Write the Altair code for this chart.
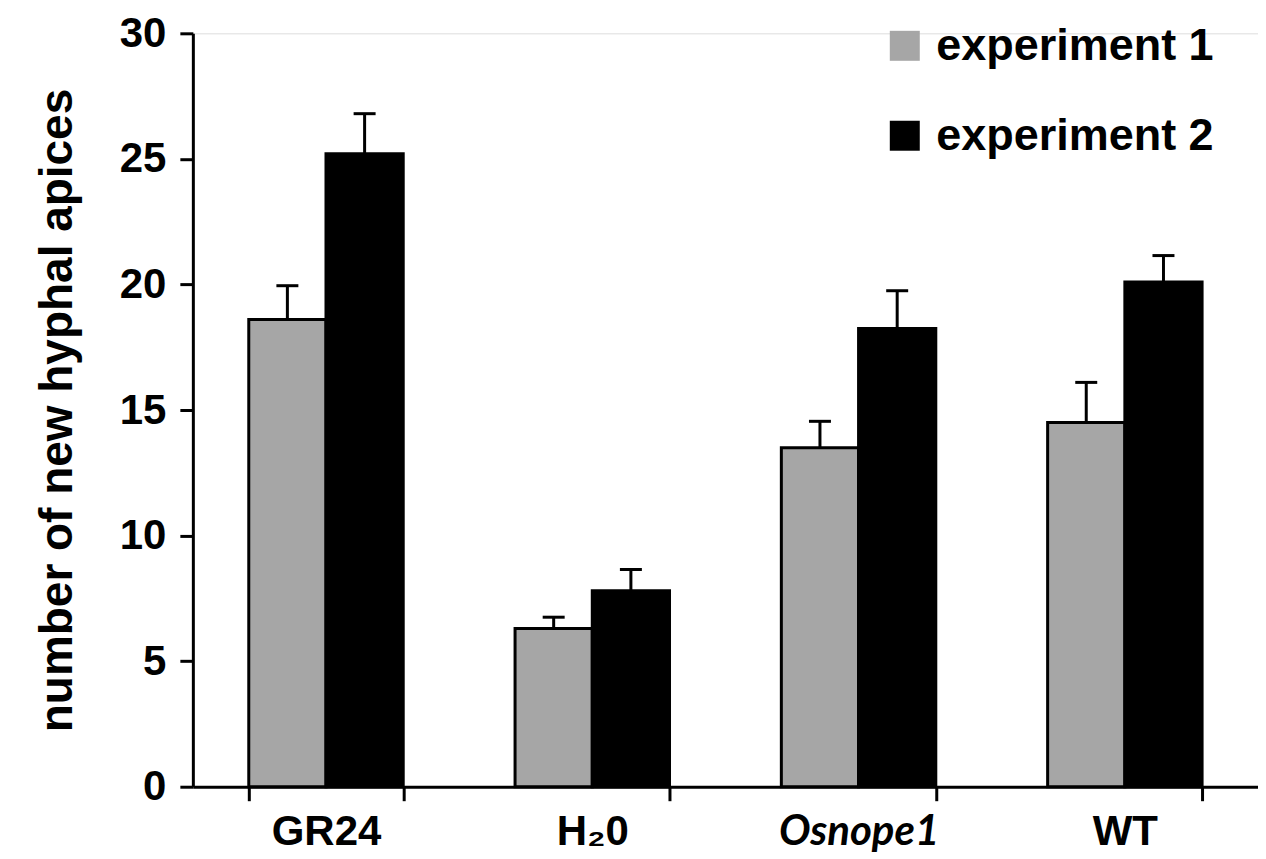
import altair as alt
import pandas as pd

treatments = ["GR24", "H₂0", "Osnope1", "WT"]
experiments = ["experiment 1", "experiment 2"]
exp1_mean = [18.6, 6.3, 13.5, 14.5]
exp1_err = [1.35, 0.45, 1.05, 1.6]
exp2_mean = [25.2, 7.8, 18.25, 20.1]
exp2_err = [1.6, 0.85, 1.5, 1.05]
colors = ["#a6a6a6", "#000000"]

rows = []
for i, t in enumerate(treatments):
    rows.append(dict(treatment=t, experiment=experiments[0], mean=exp1_mean[i], err=exp1_err[i]))
    rows.append(dict(treatment=t, experiment=experiments[1], mean=exp2_mean[i], err=exp2_err[i]))
df = pd.DataFrame(rows)
df["upper"] = df["mean"] + df["err"]

W, H = 1066, 754

x = alt.X(
    "treatment:N",
    sort=treatments,
    scale=alt.Scale(paddingInner=0.42, paddingOuter=0.21),
    axis=alt.Axis(
        title=None,
        labelAngle=0,
        tickBand="extent",
        grid=False,
        domainWidth=3,
        domainColor="black",
        tickWidth=3,
        tickSize=14,
        tickColor="black",
        labelFontSize=42,
        labelFont={"condition": {"test": "datum.value === 'Osnope1'", "value": "Lato"}, "value": "Liberation Sans"},
        labelFontStyle={"condition": {"test": "datum.value === 'Osnope1'", "value": "italic"}, "value": "normal"},
        labelFontWeight="bold",
        labelColor="black",
        labelPadding=11,
        labelLimit=400,
    ),
)
xoff = alt.XOffset("experiment:N", sort=experiments, scale=alt.Scale(paddingInner=0, paddingOuter=0))

y = alt.Y(
    "mean:Q",
    scale=alt.Scale(domain=[0, 30], nice=False),
    axis=alt.Axis(
        title="number of new hyphal apices",
        titleFontSize=46,
        titleFont="Liberation Sans",
        titleFontWeight="bold",
        titleColor="black",
        titlePadding=38,
        values=[0, 5, 10, 15, 20, 25, 30],
        grid=False,
        domainWidth=3,
        domainColor="black",
        tickWidth=3,
        tickSize=13,
        tickColor="black",
        labelFontSize=42,
        labelFont="Liberation Sans",
        labelFontWeight="bold",
        labelColor="black",
        labelPadding=14,
    ),
)

bars = alt.Chart(df).mark_bar(stroke="black", strokeWidth=3).encode(
    x=x,
    xOffset=xoff,
    y=y,
    color=alt.Color(
        "experiment:N",
        sort=experiments,
        scale=alt.Scale(domain=experiments, range=colors),
        legend=alt.Legend(
            orient="none",
            legendX=690,
            legendY=-10,
            title=None,
            symbolType="square",
            symbolSize=900,
            symbolStrokeWidth=0,
            symbolOpacity=1,
            labelFontSize=45,
            labelFont="Liberation Sans",
            labelFontWeight="bold",
            labelColor="black",
            labelLimit=500,
            rowPadding=44,
            labelOffset=9,
            padding=0,
        ),
    ),
)

rules = alt.Chart(df).mark_rule(color="black", strokeWidth=3).encode(
    x=alt.X("treatment:N", sort=treatments),
    xOffset=alt.XOffset("experiment:N", sort=experiments),
    y=alt.Y("mean:Q"),
    y2="upper:Q",
)

caps = alt.Chart(df).mark_tick(color="black", size=22, thickness=3, opacity=1).encode(
    x=alt.X("treatment:N", sort=treatments),
    xOffset=alt.XOffset("experiment:N", sort=experiments),
    y=alt.Y("upper:Q"),
)

chart = (
    alt.layer(bars, rules, caps)
    .properties(width=W, height=H, padding={"left": 26, "top": 4, "right": 0, "bottom": 0})
    .configure_view(strokeWidth=0)
    .configure_axis(grid=False)
    .configure(background="white")
)

chart.save("out.html", embed_options={"renderer": "svg", "actions": False})
